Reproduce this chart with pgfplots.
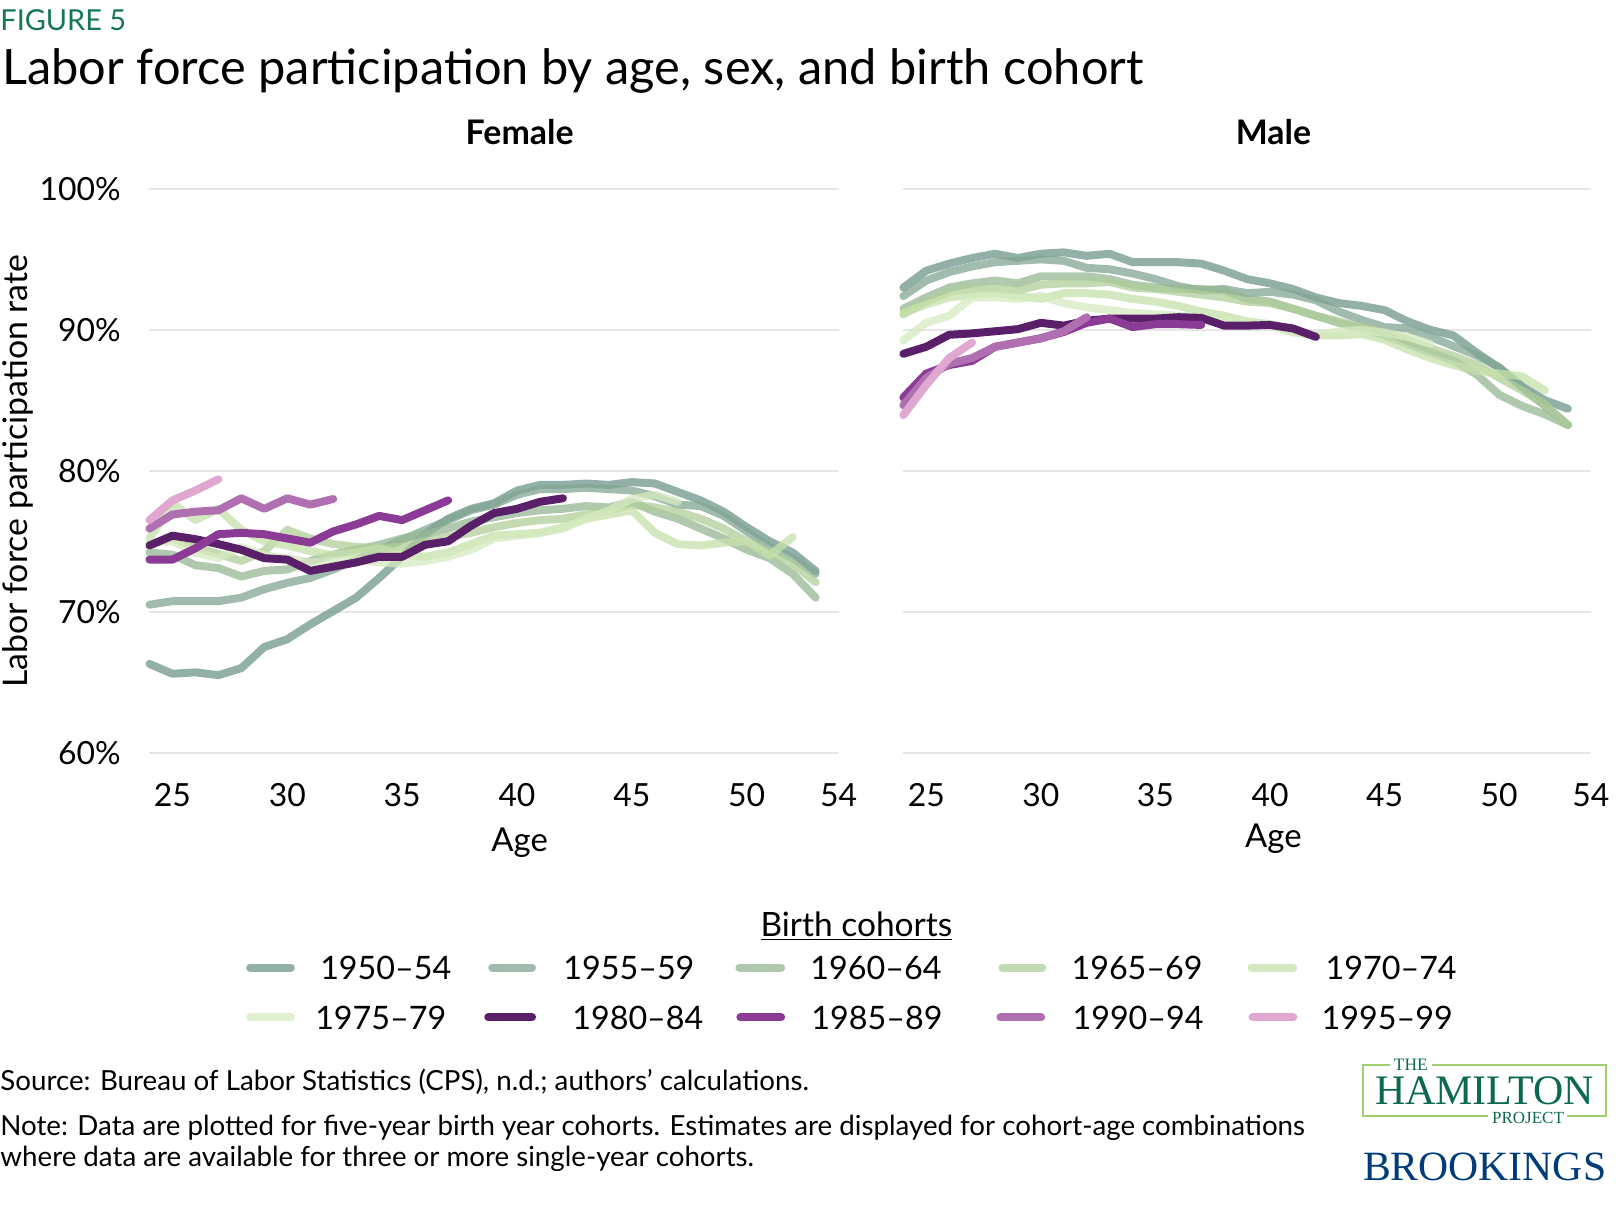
\documentclass[border=0pt]{standalone}
\usepackage{pgfplots}
\pgfplotsset{compat=1.18}
\usepackage{fontspec}
\usepackage{graphicx}
\setmainfont{Lato}
\newfontfamily\logofont{Liberation Serif}
\definecolor{cA}{RGB}{111,150,139}
\definecolor{cB}{RGB}{130,166,147}
\definecolor{cC}{RGB}{150,183,147}
\definecolor{cD}{RGB}{175,206,152}
\definecolor{cE}{RGB}{198,224,170}
\definecolor{cF}{RGB}{214,234,192}
\definecolor{cG}{RGB}{90,31,105}
\definecolor{cH}{RGB}{139,58,150}
\definecolor{cI}{RGB}{176,111,176}
\definecolor{cJ}{RGB}{224,168,208}
\definecolor{figgreen}{RGB}{22,118,90}
\definecolor{hamgreen}{RGB}{10,105,80}
\definecolor{hambox}{RGB}{160,208,110}
\definecolor{brookblue}{RGB}{0,59,122}
\definecolor{gridc}{RGB}{230,230,230}
\newcommand\tickf{\fontsize{16}{19}\selectfont}
\tikzset{
  grn/.style={line width=4pt, line cap=round, line join=round, draw opacity=0.75},
  pur/.style={line width=4pt, line cap=round, line join=round},
}
\pgfplotsset{
  panel/.style={height=282.9pt, scale only axis, anchor=south west,
    xmin=24, xmax=54, ymin=60, ymax=100,
    axis line style={draw=none}, tick style={draw=none},
    ytick={60,70,80,90,100}, ymajorgrids, grid style={gridc, line width=1pt},
    xtick={25,30,35,40,45,50,54}, xticklabels={25,30,35,40,45,50,54},
    xticklabel style={font=\tickf, anchor=center, yshift=-21.5pt},
    clip=false},
}
\begin{document}
\begin{tikzpicture}
\begin{scope}[x=0.5pt, y=-0.5pt]
\path[use as bounding box] (0,0) rectangle (1616,1229);
\end{scope}
% ---------------- Female
\begin{axis}[panel, at={(75pt,-377.7pt)}, width=345.8pt,
  yticklabels={60\%,70\%,80\%,90\%,100\%},
  yticklabel style={font=\tickf, anchor=east, inner sep=0pt, xshift=-14.2pt}]
\addplot[grn, cA] coordinates {(24,66.3)(25,65.6)(26,65.7)(27,65.5)(28,66.0)(29,67.5)(30,68.05)(31,69.1)(32,70.05)(33,71.0)(34,72.4)(35,73.9)(36,75.5)(37,76.6)(38,77.3)(39,77.7)(40,78.6)(41,79.0)(42,79.0)(43,79.1)(44,79.0)(45,79.2)(46,79.1)(47,78.5)(48,77.9)(49,77.1)(50,76.0)(51,75.0)(52,74.2)(53,72.9)};
\addplot[grn, cB] coordinates {(24,70.5)(25,70.75)(26,70.75)(27,70.75)(28,71.0)(29,71.6)(30,72.05)(31,72.4)(32,73.0)(33,73.7)(34,74.4)(35,75.1)(36,75.8)(37,76.5)(38,77.2)(39,77.6)(40,78.3)(41,78.7)(42,78.7)(43,78.8)(44,78.7)(45,78.6)(46,78.2)(47,77.6)(48,77.5)(49,76.8)(50,75.7)(51,74.6)(52,73.8)(53,72.7)};
\addplot[grn, cC] coordinates {(24,74.2)(25,74.05)(26,73.3)(27,73.1)(28,72.5)(29,72.9)(30,73.0)(31,73.6)(32,74.05)(33,74.4)(34,74.75)(35,75.2)(36,75.5)(37,75.9)(38,76.4)(39,76.7)(40,77.0)(41,77.2)(42,77.3)(43,77.5)(44,77.4)(45,77.8)(46,77.1)(47,76.6)(48,75.9)(49,75.2)(50,74.4)(51,73.8)(52,72.7)(53,71.0)};
\addplot[grn, cD] coordinates {(24,74.8)(25,75.2)(26,74.6)(27,74.1)(28,73.6)(29,74.3)(30,75.8)(31,75.2)(32,74.8)(33,74.6)(34,74.5)(35,74.6)(36,75.0)(37,75.3)(38,75.6)(39,76.0)(40,76.3)(41,76.5)(42,76.6)(43,76.9)(44,77.2)(45,77.6)(46,77.4)(47,77.1)(48,76.6)(49,75.9)(50,75.0)(51,74.2)(52,73.4)(53,72.1)};
\addplot[grn, cE] coordinates {(24,75.2)(25,77.7)(26,76.5)(27,77.3)(28,75.8)(29,75.0)(30,74.7)(31,74.3)(32,74.0)(33,74.2)(34,74.5)(35,74.1)(36,73.9)(37,74.2)(38,74.8)(39,75.4)(40,75.5)(41,75.6)(42,76.0)(43,76.6)(44,76.9)(45,77.2)(46,75.6)(47,74.8)(48,74.7)(49,74.9)(50,75.0)(51,74.0)(52,75.3)};
\addplot[grn, cF] coordinates {(24,74.9)(25,75.0)(26,74.2)(27,73.8)(28,74.6)(29,74.0)(30,73.8)(31,73.5)(32,73.6)(33,73.7)(34,73.5)(35,73.4)(36,73.6)(37,73.9)(38,74.4)(39,75.2)(40,75.4)(41,75.6)(42,75.9)(43,76.6)(44,77.2)(45,78.0)(46,78.3)(47,77.8)};
\addplot[pur, cG] coordinates {(24,74.7)(25,75.4)(26,75.15)(27,74.8)(28,74.4)(29,73.8)(30,73.7)(31,72.9)(32,73.2)(33,73.5)(34,73.9)(35,73.9)(36,74.75)(37,75.0)(38,76.1)(39,77.0)(40,77.3)(41,77.8)(42,78.05)};
\addplot[pur, cH] coordinates {(24,73.7)(25,73.7)(26,74.5)(27,75.5)(28,75.6)(29,75.5)(30,75.2)(31,74.9)(32,75.7)(33,76.2)(34,76.8)(35,76.5)(36,77.2)(37,77.9)};
\addplot[pur, cI] coordinates {(24,75.9)(25,76.9)(26,77.1)(27,77.2)(28,78.05)(29,77.3)(30,78.05)(31,77.6)(32,78.0)};
\addplot[pur, cJ] coordinates {(24,76.5)(25,77.9)(26,78.6)(27,79.4)};
\end{axis}
% ---------------- Male
\begin{axis}[panel, at={(453.3pt,-377.7pt)}, width=345pt, yticklabels={}]
\addplot[grn, cA] coordinates {(24,93.0)(25,94.2)(26,94.7)(27,95.1)(28,95.4)(29,95.1)(30,95.4)(31,95.5)(32,95.25)(33,95.4)(34,94.8)(35,94.8)(36,94.8)(37,94.7)(38,94.2)(39,93.6)(40,93.3)(41,92.9)(42,92.3)(43,91.9)(44,91.7)(45,91.4)(46,90.6)(47,90.0)(48,89.6)(49,88.4)(50,87.3)(51,86.0)(52,85.0)(53,84.4)};
\addplot[grn, cB] coordinates {(24,92.4)(25,93.5)(26,94.1)(27,94.5)(28,94.8)(29,94.9)(30,95.0)(31,94.9)(32,94.4)(33,94.3)(34,94.0)(35,93.6)(36,93.1)(37,92.8)(38,92.9)(39,92.6)(40,92.7)(41,92.5)(42,92.1)(43,91.3)(44,90.7)(45,90.2)(46,90.1)(47,89.5)(48,88.85)(49,88.2)(50,87.35)(51,85.9)(52,84.6)(53,83.25)};
\addplot[grn, cC] coordinates {(24,91.5)(25,92.3)(26,93.0)(27,93.3)(28,93.5)(29,93.3)(30,93.8)(31,93.8)(32,93.8)(33,93.6)(34,93.2)(35,93.0)(36,92.9)(37,92.9)(38,92.8)(39,92.2)(40,92.0)(41,91.5)(42,91.0)(43,90.5)(44,90.1)(45,89.6)(46,89.0)(47,88.4)(48,87.8)(49,86.85)(50,85.4)(51,84.6)(52,84.0)(53,83.25)};
\addplot[grn, cD] coordinates {(24,91.1)(25,92.0)(26,92.7)(27,92.9)(28,93.0)(29,92.8)(30,93.2)(31,93.3)(32,93.3)(33,93.4)(34,93.0)(35,92.9)(36,92.7)(37,92.5)(38,92.3)(39,92.0)(40,91.9)(41,91.5)(42,91.0)(43,90.6)(44,90.2)(45,89.8)(46,89.3)(47,88.7)(48,88.15)(49,87.55)(50,86.6)(51,85.7)(52,84.7)(53,83.25)};
\addplot[grn, cE] coordinates {(24,91.2)(25,91.8)(26,92.3)(27,92.5)(28,92.6)(29,92.4)(30,92.2)(31,92.6)(32,92.6)(33,92.5)(34,92.2)(35,92.0)(36,91.7)(37,91.3)(38,91.0)(39,90.6)(40,90.4)(41,89.9)(42,89.6)(43,89.6)(44,89.7)(45,89.3)(46,88.6)(47,88.0)(48,87.5)(49,87.1)(50,86.9)(51,86.7)(52,85.7)};
\addplot[grn, cF] coordinates {(24,89.25)(25,90.5)(26,91.0)(27,92.3)(28,92.3)(29,92.2)(30,92.4)(31,91.9)(32,91.6)(33,91.4)(34,91.2)(35,91.1)(36,91.0)(37,90.9)(38,90.6)(39,90.5)(40,90.3)(41,89.8)(42,89.6)(43,89.9)(44,90.0)(45,89.8)(46,89.5)(47,89.0)};
\addplot[pur, cG] coordinates {(24,88.3)(25,88.8)(26,89.65)(27,89.75)(28,89.9)(29,90.05)(30,90.5)(31,90.3)(32,90.65)(33,90.8)(34,90.8)(35,90.8)(36,90.9)(37,90.85)(38,90.3)(39,90.3)(40,90.35)(41,90.1)(42,89.5)};
\addplot[pur, cH] coordinates {(24,85.2)(25,86.9)(26,87.5)(27,87.8)(28,88.8)(29,89.1)(30,89.4)(31,89.85)(32,90.5)(33,90.8)(34,90.2)(35,90.4)(36,90.4)(37,90.35)};
\addplot[pur, cI] coordinates {(24,84.65)(25,86.6)(26,87.6)(27,88.0)(28,88.8)(29,89.1)(30,89.4)(31,89.9)(32,90.9)};
\addplot[pur, cJ] coordinates {(24,83.95)(25,86.1)(26,88.0)(27,89.1)};
\end{axis}
% ---------------- Texts
\begin{scope}[x=0.5pt, y=-0.5pt]
\node[anchor=base west, inner sep=0, text=figgreen] at (0,31) {\fontsize{14.5}{17}\selectfont FIGURE 5};
\node[anchor=base west, inner sep=0] at (2,84.5) {\fontsize{24.45}{29}\selectfont Labor force participation by age, sex, and birth cohort};
\node[anchor=base, inner sep=0] at (521.5,145.5) {\fontsize{17}{20}\selectfont\bfseries Female};
\node[anchor=base, inner sep=0] at (1278,145.5) {\fontsize{17}{20}\selectfont\bfseries Male};
\node[anchor=base, inner sep=0, rotate=90] at (27.5,473) {\fontsize{17}{20}\selectfont Labor force participation rate};
\node[anchor=base, inner sep=0] at (521.5,854.5) {\fontsize{16.5}{19}\selectfont Age};
\node[anchor=base, inner sep=0] at (1278,850.5) {\fontsize{16.5}{19}\selectfont Age};
\node[anchor=base, inner sep=0] at (859.5,939.5) {\fontsize{16.8}{19}\selectfont \underline{Birth cohorts}};
% legend
\foreach \c/\a/\b/\t/\l/\yy/\st in {
  cA/247/296/321/1950--54/971/grn, cB/490/538/565/1955--59/971/grn, cC/738/788/813/1960--64/971/grn,
  cD/1002/1050/1075/1965--69/971/grn, cE/1252/1302/1330/1970--74/971/grn,
  cF/247/296/316/1975--79/1021/grn, cG/486/538/574/1980--84/1021/pur, cH/739/788/814/1985--89/1021/pur,
  cI/1000/1049/1076/1990--94/1021/pur, cJ/1253/1302/1326/1995--99/1021/pur}{
  \draw[\st, \c] (\a+4,\yy) -- (\b-4,\yy);
  \node[anchor=base west, inner sep=0] at (\t,\yy+11.7) {\fontsize{16.2}{19}\selectfont \l};
}
\node[anchor=base west, inner sep=0] at (0,1094.5) {\fontsize{13.9}{16}\selectfont Source: Bureau of Labor Statistics (CPS), n.d.; authors’ calculations.};
\node[anchor=base west, inner sep=0] at (0,1140) {\fontsize{13.9}{16}\selectfont Note: Data are plotted for five-year birth year cohorts. Estimates are displayed for cohort-age combinations};
\node[anchor=base west, inner sep=0] at (0,1171) {\fontsize{13.9}{16}\selectfont where data are available for three or more single-year cohorts.};
% logo
\draw[hambox, line width=1.1pt] (1395,1069) -- (1368,1069) -- (1368,1120) -- (1493,1120);
\draw[hambox, line width=1.1pt] (1573,1120) -- (1612,1120) -- (1612,1069) -- (1437,1069);
\node[anchor=base, inner sep=0, text=hamgreen] at (1416,1074) {\resizebox{17pt}{!}{\logofont THE}};
\node[anchor=base, inner sep=0, text=hamgreen] at (1490,1108.5) {\resizebox{110pt}{!}{\logofont HAMILTON}};
\node[anchor=base, inner sep=0, text=hamgreen] at (1533.5,1128) {\resizebox{36pt}{!}{\logofont PROJECT}};
\node[anchor=base, inner sep=0, text=brookblue] at (1490,1185) {\resizebox{122pt}{!}{\logofont BROOKINGS}};
\end{scope}
\end{tikzpicture}
\end{document}
